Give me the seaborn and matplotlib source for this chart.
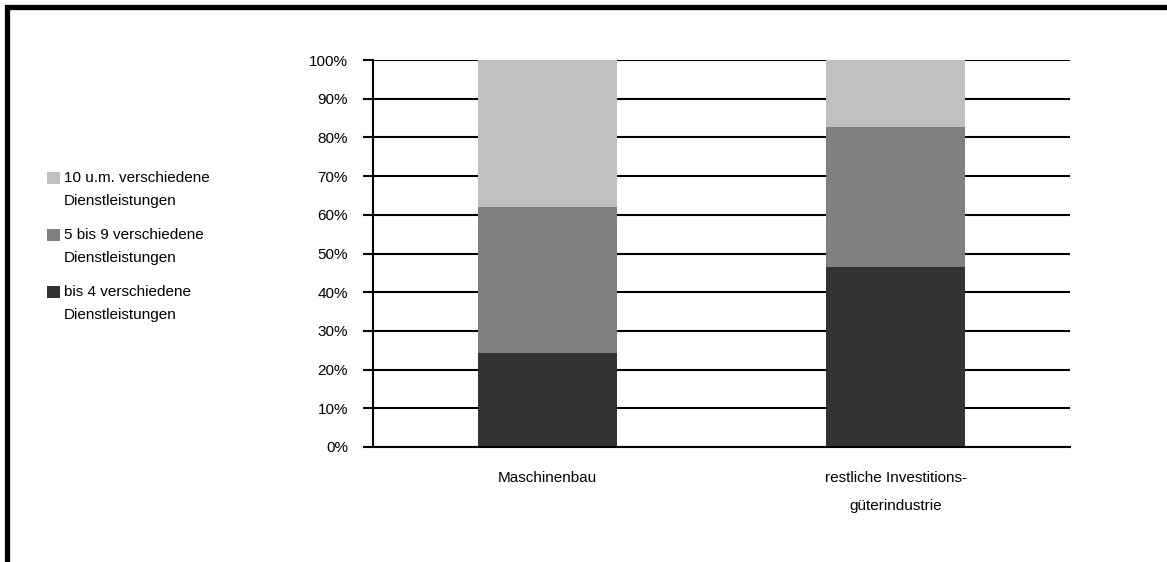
import numpy as np
import pandas as pd
import matplotlib
matplotlib.use("Agg")
import matplotlib.pyplot as plt
from matplotlib.patches import Rectangle
import seaborn as sns

# shares per industry group (percent)
categories = ["Maschinenbau", "restliche Investitions-\ngüterindustrie"]
bis_4 = [24.3, 46.6]
bis_9 = [37.7, 36.1]
ab_10 = [38.0, 17.3]
series_labels = ["bis 4 verschiedene\nDienstleistungen",
                 "5 bis 9 verschiedene\nDienstleistungen",
                 "10 u.m. verschiedene\nDienstleistungen"]
series_colors = ["#333333", "#808080", "#c0c0c0"]
y_ticks = [0, 10, 20, 30, 40, 50, 60, 70, 80, 90, 100]

df = pd.DataFrame({"Branche": categories, "bis4": bis_4, "bis9": bis_9, "ab10": ab_10})
df["c1"] = df["bis4"]
df["c2"] = df["c1"] + df["bis9"]
df["c3"] = df["c2"] + df["ab10"]

sns.set_style("white")
plt.rcParams["font.family"] = ["Liberation Sans", "DejaVu Sans"]
plt.rcParams["text.color"] = "black"
plt.rcParams["xtick.color"] = "black"
plt.rcParams["ytick.color"] = "black"

W, H = 1167, 562
fig, ax = plt.subplots(figsize=(W / 100, H / 100), dpi=100)
fig.subplots_adjust(left=373 / W, right=1070 / W, top=1 - 60 / H, bottom=1 - 447 / H)

# stacked look: draw cumulative totals from the top segment down
for col, c in zip(["c3", "c2", "c1"], series_colors[::-1]):
    sns.barplot(data=df, x="Branche", y=col, color=c, width=0.4,
                saturation=1, linewidth=0, ax=ax)

ax.set_xlim(-0.5, 1.5)
ax.set_ylim(0, 100)
ax.set_yticks(y_ticks)
ax.set_yticklabels([f"{v}%" for v in y_ticks], fontsize=11)
ax.set_xlabel("")
ax.set_ylabel("")
ax.set_axisbelow(True)
ax.yaxis.grid(True, color="black", linewidth=1.5)
ax.xaxis.grid(False)
for s in ["top", "right"]:
    ax.spines[s].set_visible(False)
ax.spines["left"].set_color("black")
ax.spines["left"].set_linewidth(1.5)
ax.spines["bottom"].set_color("black")
ax.spines["bottom"].set_linewidth(1.5)
ax.tick_params(axis="y", length=7, width=1.5, color="black", pad=11, left=True,
               labelcolor="black")
ax.tick_params(axis="x", length=0, pad=17, labelsize=11, labelcolor="black")
for t in ax.get_xticklabels():
    t.set_linespacing(2.35)

# legend block on the left: square swatch next to the first line of each label
legend_y = [178, 235, 292]
for lab, c, yc in zip(series_labels[::-1], series_colors[::-1], legend_y):
    fig.add_artist(Rectangle((47 / W, 1 - (yc + 6) / H), 13 / W, 12 / H,
                             transform=fig.transFigure, facecolor=c,
                             edgecolor="none"))
    fig.text(64 / W, 1 - (yc - 7) / H, lab, fontsize=11, va="top", ha="left",
             linespacing=1.8, color="black")

# heavy frame on the left and top edge
fig.add_artist(Rectangle((6.5 / W, -0.5), 2, 0.5 + 1 - 6.5 / H,
                         transform=fig.transFigure, fill=False,
                         edgecolor="black", linewidth=3.8, clip_on=False))

fig.savefig("out.png", dpi=100)
